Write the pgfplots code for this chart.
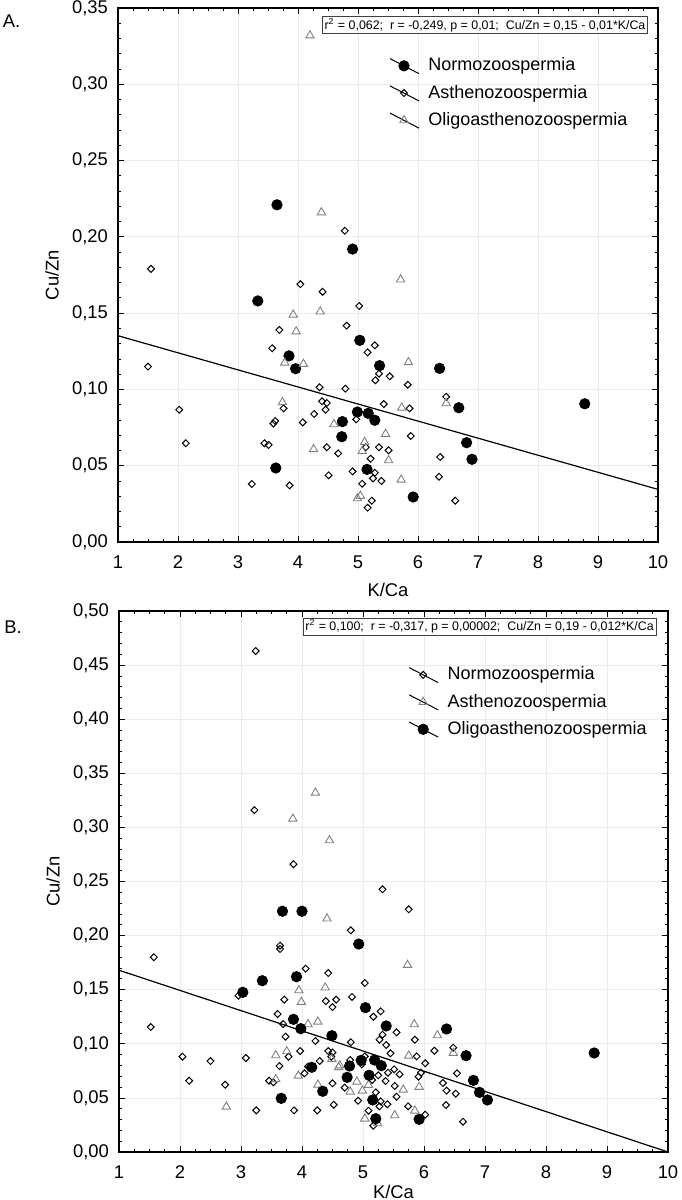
\documentclass[border=0pt]{standalone}
\usepackage{fontspec}
\setmainfont{Liberation Sans}
\usepackage{pgfplots}
\pgfplotsset{compat=1.18}

\pgfplotstableread{
x y
3.65 0.221
4.91 0.192
3.33 0.158
3.85 0.122
3.96 0.1136
5.03 0.1322
5.36 0.1156
6.36 0.1138
6.68 0.088
8.78 0.0906
4.99 0.0852
5.17 0.0843
5.28 0.0798
4.74 0.0789
4.73 0.069
6.81 0.0651
6.90 0.0542
5.15 0.0476
3.63 0.0485
5.92 0.0295
}\AnormoT

\pgfplotstableread{
x y
1.55 0.179
4.04 0.169
4.41 0.164
4.78 0.204
3.69 0.139
3.57 0.127
1.50 0.115
4.36 0.1014
3.76 0.0876
4.40 0.0922
4.48 0.0911
4.46 0.0867
2.02 0.0867
4.27 0.0839
4.08 0.0784
3.62 0.0793
3.59 0.0776
2.13 0.0647
3.44 0.0647
3.51 0.0636
4.48 0.0621
4.67 0.0581
4.51 0.0437
3.23 0.038
3.86 0.0371
5.02 0.1547
4.81 0.1418
5.28 0.1289
5.16 0.1243
5.35 0.1103
5.53 0.1086
5.29 0.106
5.83 0.1031
4.79 0.1005
6.47 0.0952
5.43 0.0904
5.86 0.0876
4.97 0.0804
5.88 0.0695
5.13 0.0621
5.35 0.0621
5.51 0.0601
6.37 0.0557
5.21 0.0546
4.91 0.0463
5.28 0.0454
5.25 0.0417
5.39 0.040
5.07 0.0382
6.35 0.0428
5.23 0.0271
6.62 0.0271
5.16 0.0225
}\AasthT

\pgfplotstableread{
x y
4.20 0.332
4.39 0.216
5.71 0.172
3.92 0.149
4.37 0.151
3.97 0.138
3.78 0.1175
4.09 0.1167
3.74 0.0916
4.60 0.0771
4.26 0.0608
5.84 0.1178
6.47 0.0909
5.73 0.088
5.46 0.0708
5.11 0.0655
5.07 0.0596
5.51 0.0535
5.72 0.0408
5.04 0.0302
4.99 0.0286
}\AoligoT

\pgfplotstableread{
x y
3.24 0.463
3.22 0.316
3.86 0.266
5.32 0.2428
3.64 0.1907
3.64 0.1876
1.57 0.180
4.06 0.1695
4.43 0.1654
2.96 0.1445
3.71 0.1408
4.39 0.1395
4.56 0.1408
4.50 0.134
3.60 0.1275
3.69 0.1183
1.52 0.1155
3.73 0.1066
4.22 0.1026
3.97 0.0933
4.43 0.0933
4.50 0.092
3.78 0.0881
2.04 0.0881
3.08 0.0869
4.48 0.0881
2.50 0.0841
4.29 0.0841
3.63 0.0795
4.10 0.079
4.04 0.0727
2.15 0.0659
3.46 0.0659
3.53 0.0644
4.50 0.0635
2.74 0.0622
4.52 0.0437
3.25 0.0385
3.87 0.0385
4.25 0.0385
5.75 0.2243
4.80 0.2049
5.03 0.1562
4.82 0.1433
5.29 0.130
5.17 0.125
5.55 0.1106
5.32 0.1084
5.27 0.1038
5.85 0.1038
4.80 0.1014
5.38 0.0989
6.48 0.0964
6.17 0.0936
5.45 0.0912
5.88 0.0884
5.03 0.0884
4.79 0.085
4.98 0.081
6.02 0.082
5.51 0.0764
5.41 0.0733
5.60 0.0718
5.95 0.0733
6.54 0.0727
5.25 0.0709
5.91 0.0696
5.15 0.0665
5.37 0.0656
6.31 0.0638
5.52 0.061
4.70 0.0595
6.37 0.0567
5.21 0.0551
6.52 0.0539
5.55 0.0511
4.92 0.0474
5.29 0.0468
5.40 0.0441
5.27 0.0422
5.74 0.0422
6.36 0.0434
5.09 0.0382
6.02 0.0345
5.17 0.0243
6.64 0.028
}\BnormoT

\pgfplotstableread{
x y
4.22 0.332
3.85 0.308
4.45 0.288
4.41 0.2157
4.38 0.1519
3.95 0.1494
3.99 0.1386
4.26 0.1204
4.10 0.118
3.75 0.093
3.57 0.0893
4.49 0.086
4.60 0.0783
3.94 0.0705
3.57 0.0672
4.26 0.0622
2.76 0.0419
5.73 0.1728
5.84 0.118
6.22 0.1078
6.48 0.0915
5.75 0.089
4.90 0.065
5.09 0.0619
5.92 0.0601
4.99 0.0567
5.66 0.0576
4.79 0.0557
5.85 0.0382
5.52 0.0339
5.03 0.0308
5.24 0.0265
4.62 0.080
}\BasthT

\pgfplotstableread{
x y
3.68 0.2225
4.00 0.2225
3.91 0.162
3.35 0.1583
3.03 0.1476
3.86 0.1226
3.98 0.114
4.49 0.1075
4.16 0.0783
4.34 0.0561
3.66 0.0496
4.93 0.1922
5.04 0.1334
5.38 0.1165
6.37 0.1137
8.79 0.0915
6.69 0.089
4.97 0.0847
5.19 0.085
4.78 0.0795
5.30 0.0798
5.10 0.0709
4.74 0.069
6.81 0.0662
6.91 0.0551
7.04 0.0481
5.16 0.0481
5.92 0.0302
5.21 0.0308
}\BoligoT

\pgfplotsset{
  every axis/.append style={
    scale only axis,
    xmin=1, xmax=10,
    xtick={1,2,...,10},
    minor x tick num=3,
    minor y tick num=4,
    tick align=inside,
    major tick length=3pt,
    minor tick length=1.6pt,
    tick style={black, line width=0.4pt},
    axis line style={black, line width=0.8pt},
    grid=major,
    major grid style={color=black!8, line width=0.4pt},
    ticklabel style={font=\fontsize{9.2}{10}\selectfont},
    label style={font=\fontsize{9.2}{10}\selectfont},
    /pgf/number format/assume math mode=true,
    y tick label style={/pgf/number format/fixed, /pgf/number format/fixed zerofill,
      /pgf/number format/precision=2, /pgf/number format/use comma},
    xticklabel style={yshift=-3.5pt},
    yticklabel style={xshift=-1.5pt},
    legend style={draw=none, fill=none, inner sep=0pt, font=\fontsize{9}{10}\selectfont,
      cells={anchor=west}, row sep=1.6pt},
    legend image code/.code={
      \draw[black, line width=0.5pt, solid] (0pt,3.6pt) -- (14.5pt,-3.9pt);
      \draw[#1] plot coordinates {(7pt,0pt)};
      \path (17pt,0pt);
    },
  },
  circ/.style={only marks, mark=*, mark size=2.6pt, mark options={draw=black, fill=black}},
  diam/.style={only marks, mark=square, mark size=1.22pt, mark options={rotate=45, draw=black, fill=white, line width=0.5pt}},
  tri/.style={only marks, mark=triangle, mark size=2.4pt, mark options={draw=black!50, fill=white, line width=0.45pt}},
}

\begin{document}
\begin{tikzpicture}
\useasboundingbox (0,0) rectangle (340.5pt,-600pt);

% ---------- Panel A ----------
\begin{axis}[
  at={(59pt,-4pt)}, anchor=north west,
  width=270pt, height=267pt,
  ymin=0, ymax=0.35,
  ytick={0,0.05,...,0.351},
  xlabel={K/Ca}, ylabel={Cu/Zn},
  x label style={at={([yshift=-24pt]axis description cs:0.5,0)}, anchor=center},
  y label style={at={([xshift=-33pt]axis description cs:0,0.5)}, anchor=center},
  legend style={at={(rel axis cs:0.502,0.915)}, anchor=north west},
]
\addplot[circ] table {\AnormoT};
\addlegendentry{Normozoospermia}
\addplot[diam] table {\AasthT};
\addlegendentry{Asthenozoospermia}
\addplot[tri] table {\AoligoT};
\addlegendentry{Oligoasthenozoospermia}
\addplot[black, line width=0.6pt, forget plot] coordinates {(1,0.1352) (10,0.0345)};
\end{axis}

% ---------- Panel B ----------
\begin{axis}[
  at={(59.5pt,-305.5pt)}, anchor=north west,
  width=274.5pt, height=270.5pt,
  ymin=0, ymax=0.5,
  ytick={0,0.05,...,0.501},
  xlabel={K/Ca}, ylabel={Cu/Zn},
  x label style={at={([yshift=-20pt]axis description cs:0.5,0)}, anchor=center},
  y label style={at={([xshift=-33pt]axis description cs:0,0.5)}, anchor=center},
  legend style={at={(rel axis cs:0.527,0.905)}, anchor=north west},
]
\addplot[diam] table {\BnormoT};
\addlegendentry{Normozoospermia}
\addplot[tri] table {\BasthT};
\addlegendentry{Asthenozoospermia}
\addplot[circ] table {\BoligoT};
\addlegendentry{Oligoasthenozoospermia}
\addplot[black, line width=0.6pt, forget plot] coordinates {(1,0.168) (10,0.0)};
\end{axis}

% panel letters and statistics boxes
\node[font=\fontsize{9.2}{10}\selectfont, anchor=center] at (5.8pt,-10.5pt) {A.};
\node[font=\fontsize{9.2}{10}\selectfont, anchor=center] at (6.5pt,-313.5pt) {B.};

\node[draw=black!75, line width=0.4pt, fill=white, inner xsep=1.2pt, inner ysep=0.8pt, minimum height=8pt,
  font=\fontsize{6.2}{7}\selectfont, anchor=center] at (242.5pt,-12.5pt)
  {r\textsuperscript{2} = 0,062;\ \ r = -0,249, p = 0,01;\ \ Cu/Zn = 0,15 - 0,01*K/Ca};
\node[draw=black!75, line width=0.4pt, fill=white, inner xsep=1.2pt, inner ysep=0.8pt, minimum height=8pt,
  font=\fontsize{6.2}{7}\selectfont, anchor=center] at (239.8pt,-313.3pt)
  {r\textsuperscript{2} = 0,100;\ \ r = -0,317, p = 0,00002;\ \ Cu/Zn = 0,19 - 0,012*K/Ca};
\end{tikzpicture}
\end{document}
